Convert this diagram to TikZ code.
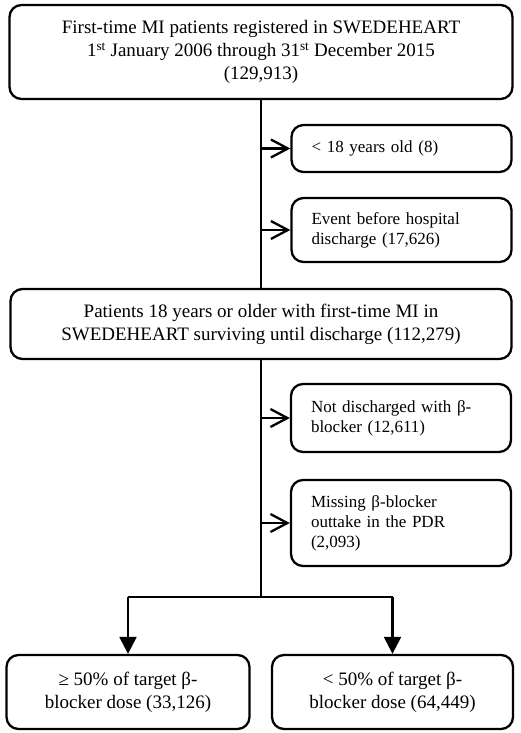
\documentclass[tikz,border=0pt]{standalone}
\usepackage{fontspec}
\setmainfont{Liberation Serif}
\usetikzlibrary{arrows.meta}

\tikzset{
  mainbox/.style={draw,line width=2.3pt,rounded corners=12pt,align=center,font=\fontsize{19}{23}\selectfont},
  sidebox/.style={draw,line width=2.3pt,rounded corners=12pt,align=left,text width=180pt,inner xsep=20pt,font=\fontsize{17}{20}\selectfont},
  sidearrow/.style={line width=2.3pt,-{Straight Barb[length=17pt,width=18pt]}},
  downarrow/.style={line width=2.3pt,-{Triangle[length=17pt,width=17pt]}}
}

\begin{document}
\begin{tikzpicture}[x=1pt,y=-1pt]
\useasboundingbox (0,0) rectangle (520,733);

\node[mainbox,minimum width=503pt,minimum height=94pt] (reg) at (261,52)
  {First-time MI patients registered in SWEDEHEART\\
   1\textsuperscript{st} January 2006 through 31\textsuperscript{st} December 2015\\
   (129,913)};
\node[sidebox,minimum height=47pt] (young) at (401.5,148.5) {< 18 years old (8)};
\node[sidebox,minimum height=64pt] (event) at (401.5,230) {Event before hospital\\discharge (17,626)};

\node[mainbox,minimum width=501pt,minimum height=70pt] (surv) at (261,324)
  {Patients 18 years or older with first-time MI in\\
   SWEDEHEART surviving until discharge (112,279)};
\node[sidebox,minimum height=68pt] (nobb) at (401,418) {Not discharged with β-\\blocker (12,611)};
\node[sidebox,minimum height=86pt] (miss) at (401,523) {Missing β-blocker\\outtake in the PDR\\(2,093)};

\node[mainbox,minimum width=243pt,minimum height=74pt] (high) at (128,692) {≥ 50\% of target β-\\blocker dose (33,126)};
\node[mainbox,minimum width=241pt,minimum height=74pt] (low) at (392.5,692) {< 50\% of target β-\\blocker dose (64,449)};

\coordinate (split) at (261,597);

\draw[line width=2.3pt] (reg.south) -- (surv.north);
\draw[line width=2.3pt] (surv.south) -- (split);
\draw[sidearrow] (reg.south |- young.west) -- (young.west);
\draw[sidearrow] (reg.south |- event.west) -- (event.west);
\draw[sidearrow] (surv.south |- nobb.west) -- (nobb.west);
\draw[sidearrow] (surv.south |- miss.west) -- (miss.west);

\draw[line width=2.3pt] (high.north |- split) -- (low.north |- split);
\draw[downarrow] (high.north |- split) -- (high.north);
\draw[downarrow] (low.north |- split) -- (low.north);

\end{tikzpicture}
\end{document}
